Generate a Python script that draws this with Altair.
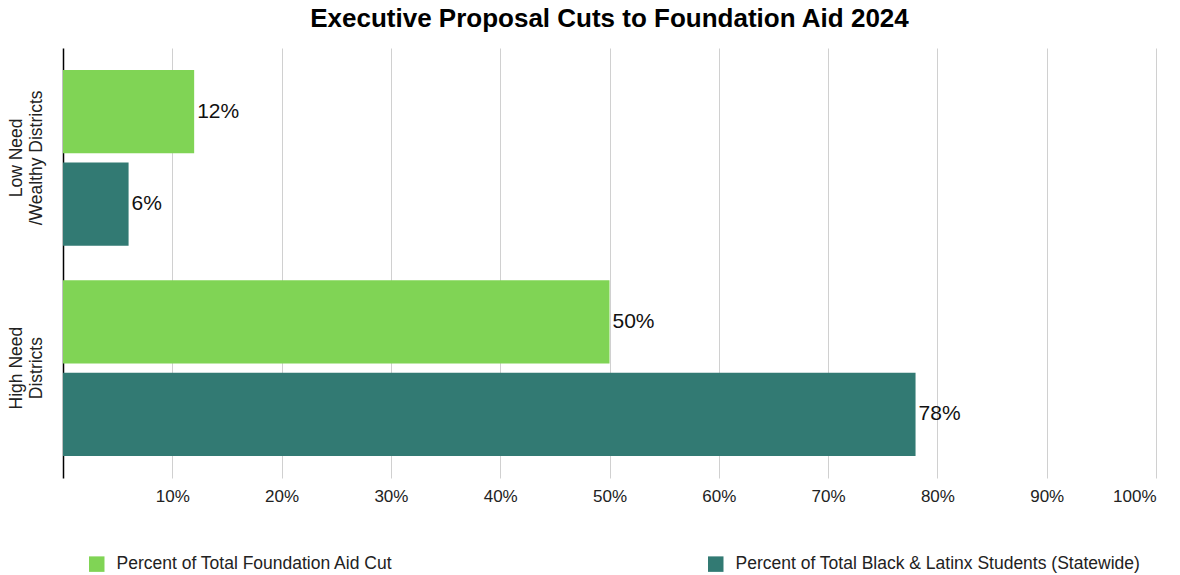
import altair as alt
import pandas as pd

categories = ["Low Need|/Wealthy Districts", "Low Need|/Wealthy Districts", "High Need|Districts", "High Need|Districts"]
series = ["Percent of Total Foundation Aid Cut", "Percent of Total Black & Latinx Students (Statewide)",
          "Percent of Total Foundation Aid Cut", "Percent of Total Black & Latinx Students (Statewide)"]
values = [0.12, 0.06, 0.50, 0.78]
labels = ["12%", "6%", "50%", "78%"]
series_order = ["Percent of Total Foundation Aid Cut", "Percent of Total Black & Latinx Students (Statewide)"]
cat_order = ["Low Need|/Wealthy Districts", "High Need|Districts"]
colors = ["#80d455", "#327a73"]
x_ticks = [0.1, 0.2, 0.3, 0.4, 0.5, 0.6, 0.7, 0.8, 0.9, 1.0]

df = pd.DataFrame({"cat": categories, "series": series, "value": values, "label": labels})

FONT = "Liberation Sans"

y_enc = alt.Y("cat:N", sort=cat_order,
              scale=alt.Scale(paddingInner=0.165, paddingOuter=0.105),
              axis=alt.Axis(title=None, labelAngle=270, labelAlign="center", labelBaseline="bottom",
                            labelExpr="split(datum.label, '|')", labelFontSize=17.5, labelColor="#222222",
                            labelFont=FONT, labelPadding=38, labelLineHeight=20, labelLimit=0,
                            ticks=False, domainColor="#000000", domainWidth=1.5, grid=False))
yoff = alt.YOffset("series:N", sort=series_order, scale=alt.Scale(paddingInner=0.1, paddingOuter=0))
x_enc = alt.X("value:Q", scale=alt.Scale(domain=[0, 1], nice=False, zero=True),
              axis=alt.Axis(title=None, values=x_ticks, format=".0%", grid=True, gridColor="#d0d0d0",
                            gridWidth=1, domain=False, ticks=False, labelFontSize=17, labelFont=FONT,
                            labelColor="#222222", labelPadding=10))

base = alt.Chart(df)
bars = base.mark_bar().encode(
    x=x_enc, y=y_enc, yOffset=yoff,
    color=alt.Color("series:N", sort=series_order, scale=alt.Scale(domain=series_order, range=colors),
                    legend=alt.Legend(title=None, orient="none", direction="horizontal", legendX=25, legendY=507,
                                      symbolType="square", symbolSize=240, symbolStrokeWidth=0,
                                      labelFontSize=17.5, labelFont=FONT, labelColor="#222222", labelLimit=0,
                                      columnPadding=314, labelOffset=11, columns=2)),
)
text = base.mark_text(align="left", baseline="middle", dx=3, fontSize=21, font=FONT, color="#111111").encode(
    x="value:Q", y=alt.Y("cat:N", sort=cat_order), yOffset=alt.YOffset("series:N", sort=series_order), text="label:N"
)

chart = alt.layer(bars, text).properties(
    width=1093, height=430,
    title=alt.TitleParams("Executive Proposal Cuts to Foundation Aid 2024", fontSize=26, font=FONT,
                          fontWeight="bold", anchor="middle", color="#000000", offset=16),
    autosize=alt.AutoSizeParams(type="none"),
    padding={"left": 63, "top": 48, "right": 24, "bottom": 97},
).configure_view(stroke=None)

chart.save("out.html", embed_options={"renderer": "svg", "actions": False})
